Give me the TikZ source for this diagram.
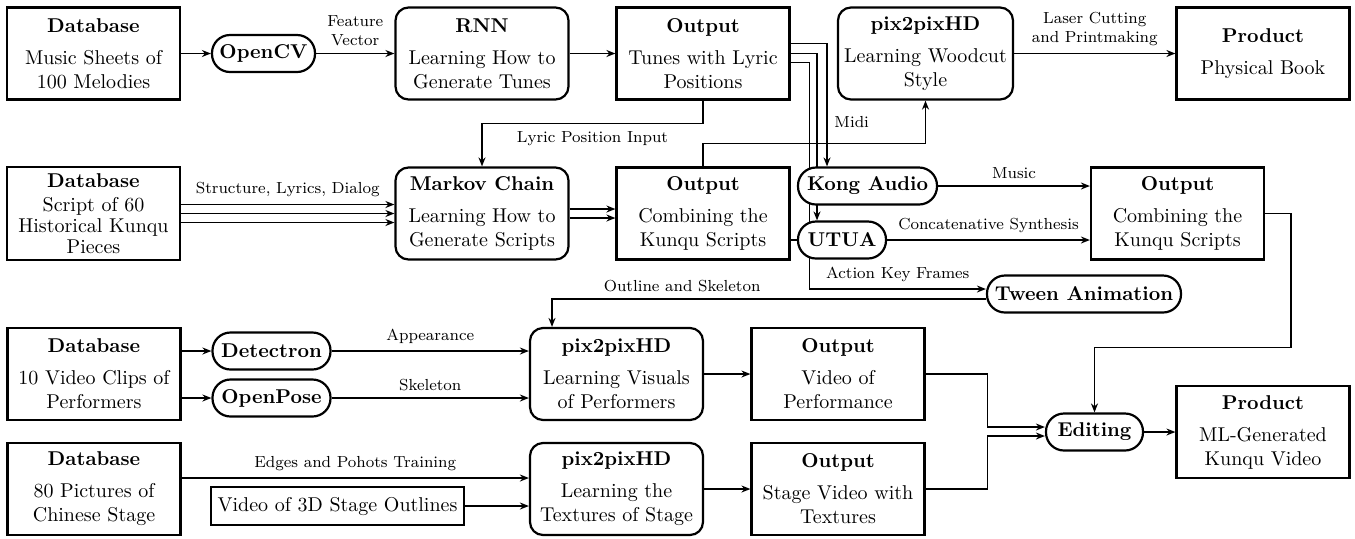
\documentclass[tikz,border=0pt]{standalone}
\usepackage{tikz}
\usetikzlibrary{arrows.meta, positioning, backgrounds}

\begin{document}
\begin{tikzpicture}[
		x=0.5pt, y=-0.5pt,
		>={Stealth[length=4.5pt,width=3.5pt]},
		box/.style={
			draw,
			line width=1.1pt,
			minimum width=86.5pt,
			minimum height=46pt,
			inner xsep=1pt,
			align=center
		},
		model/.style={
			box,
			rounded corners=6.5pt
		},
		tool/.style={
			draw,
			fill=white,
			line width=1.1pt,
			rounded corners=9pt,
			minimum height=18.5pt,
			inner xsep=0pt,
			font=\bfseries
		},
		lbl/.style={
			font=\footnotesize,
			align=center
		}
		]

		\useasboundingbox (0,0) rectangle (1355,538);

		%------------------------------------------------
		% ROW 1 (music sheets)
		%------------------------------------------------

		\node[box] (db1) at (93.5,53.5)
		{\textbf{Database}\\[4pt]Music Sheets of\\100 Melodies};

		\node[tool, minimum width=51.5pt] (opencv) at (263.5,53.5) {OpenCV};

		\node[model] (rnn) at (482,53.5)
		{\textbf{RNN}\\[4pt]Learning How to\\Generate Tunes};

		\node[box] (out1) at (703,53.5)
		{\textbf{Output}\\[4pt]Tunes with Lyric\\Positions};

		\node[model, minimum width=87.5pt] (pix1) at (925.5,53.5)
		{\textbf{pix2pixHD}\\[4pt]Learning Woodcut\\Style};

		\node[box] (prod1) at (1263,53.5)
		{\textbf{Product}\\[4pt]Physical Book};

		%------------------------------------------------
		% ROW 2 (scripts)
		%------------------------------------------------

		\node[box] (db2) at (93.5,213.5)
		{\textbf{Database}\\Script of 60\\[-1.5pt]Historical Kunqu\\[-1.5pt]Pieces};

		\node[model] (markov) at (482,213.5)
		{\textbf{Markov Chain}\\[4pt]Learning How to\\Generate Scripts};

		\node[box] (out2) at (703,213.5)
		{\textbf{Output}\\[4pt]Combining the\\Kunqu Scripts};

		\node[tool, minimum width=69.5pt] (kong) at (867.5,186) {Kong Audio};

		\node[tool, minimum width=44pt] (utua) at (842,240) {UTUA};

		\node[box] (out3) at (1177.5,213.5)
		{\textbf{Output}\\[4pt]Combining the\\Kunqu Scripts};

		%------------------------------------------------
		% ROW 3 (performers)
		%------------------------------------------------

		\node[tool, minimum width=97pt] (tween) at (1084,294) {Tween Animation};

		\node[box] (db3) at (94,374)
		{\textbf{Database}\\[4pt]10 Video Clips of\\Performers};

		\node[tool, minimum width=59pt] (detectron) at (271.5,351) {Detectron};

		\node[tool, minimum width=59pt] (openpose) at (271.5,398) {OpenPose};

		\node[model] (pix3) at (616.5,374)
		{\textbf{pix2pixHD}\\[4pt]Learning Visuals\\of Performers};

		\node[box] (out4) at (838,374)
		{\textbf{Output}\\[4pt]Video of\\Performance};

		\node[tool, minimum width=48.5pt] (editing) at (1094.5,432) {Editing};

		\node[box] (prod2) at (1263,432)
		{\textbf{Product}\\[4pt]ML-Generated\\Kunqu Video};

		%------------------------------------------------
		% ROW 4 (stage)
		%------------------------------------------------

		\node[box] (db4) at (94,489)
		{\textbf{Database}\\[4pt]80 Pictures of\\Chinese Stage};

		\node[
		draw,
		line width=1.1pt,
		minimum width=126.5pt,
		minimum height=19pt
		] (video) at (337.5,506) {Video of 3D Stage Outlines};

		\node[model] (pix4) at (616.5,489)
		{\textbf{pix2pixHD}\\[4pt]Learning the\\Textures of Stage};

		\node[box] (out5) at (838,489)
		{\textbf{Output}\\[4pt]Stage Video with\\Textures};

		%------------------------------------------------
		% CONNECTORS
		%------------------------------------------------

		\draw[->,thick] (db1) -- (opencv);
		\draw[->,thick] (opencv) -- node[lbl, above] {Feature\\Vector} (rnn);
		\draw[->,thick] (rnn) -- (out1);
		\draw[->,thick] (pix1) -- node[lbl, above] {Laser Cutting\\and Printmaking} (prod1);

		\begin{scope}[on background layer]
			\draw[->,thick]
			([yshift=5pt]out1.east)
			-| node[lbl, pos=0.82, right] {Midi} ([xshift=-20.25pt]kong.north);

			\draw[->,thick]
			(out1.east)
			-| ([xshift=-12.5pt]utua.north);

			\draw[->,thick]
			([yshift=-4.5pt]out1.east)
			-- ++(9.5pt,0)
			|- node[lbl, pos=0.75, above] {Action Key Frames} ([yshift=2.5pt]tween.west);
		\end{scope}

		\draw[->,thick]
		(out1.south)
		-- ++(0,23)
		-| node[lbl, pos=0.25, below] {Lyric Position Input} (markov.north);

		\draw[->,thick] ([yshift=4.5pt]db2.east)
		-- node[lbl, above] {Structure, Lyrics, Dialog} ([yshift=4.5pt]markov.west);
		\foreach \dy in {0pt,-4.5pt}
		\draw[->,thick] ([yshift=\dy]db2.east) -- ([yshift=\dy]markov.west);

		\foreach \dy in {2.25pt,-2.25pt}
		\draw[->,thick] ([yshift=\dy]markov.east) -- ([yshift=\dy]out2.west);

		\draw[->,thick]
		(out2.north)
		-- ++(0,-23)
		-| (pix1.south);

		\draw[thick] (out2.east |- utua.west) -- (utua.west);

		\draw[->,thick] (kong.east) -- node[lbl, above] {Music} (kong.east -| out3.west);
		\draw[->,thick] (utua.east) -- node[lbl, above] {Concatenative Synthesis} (utua.east -| out3.west);

		\draw[->,thick]
		(out3.east)
		-- ++(26,0)
		-- ++(0,134)
		-| (editing.north);

		\draw[->,thick]
		([yshift=-2.5pt]tween.west)
		-| node[lbl, pos=0.35, above] {Outline and Skeleton} ([xshift=-32.25pt]pix3.north);

		\draw[->,thick] (db3.east |- detectron.west) -- (detectron.west);
		\draw[->,thick] (db3.east |- openpose.west) -- (openpose.west);
		\draw[->,thick] (detectron.east) -- node[lbl, above] {Appearance} (detectron.east -| pix3.west);
		\draw[->,thick] (openpose.east) -- node[lbl, above] {Skeleton} (openpose.east -| pix3.west);
		\draw[->,thick] (pix3) -- (out4);

		\draw[->,thick]
		(out4.east)
		-- ++(31pt,0)
		|- ([yshift=2.5pt]editing.west);

		\draw[->,thick]
		(out5.east)
		-- ++(31pt,0)
		|- ([yshift=-2pt]editing.west);

		\draw[->,thick] (editing) -- (prod2);

		\draw[->,thick] ([yshift=5.5pt]db4.east)
		-- node[lbl, above] {Edges and Pohots Training} ([yshift=5.5pt]pix4.west);
		\draw[->,thick] (video) -- (video -| pix4.west);
		\draw[->,thick] (pix4) -- (out5);

\end{tikzpicture}
\end{document}
